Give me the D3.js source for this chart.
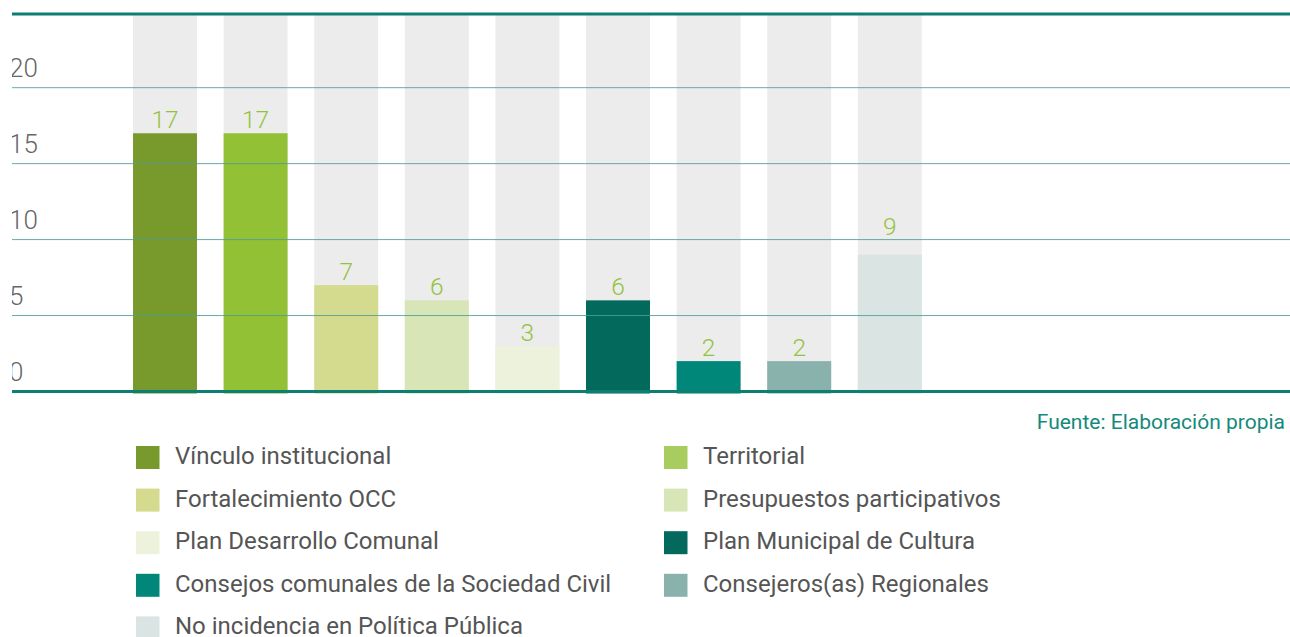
<!DOCTYPE html>
<html><head><meta charset="utf-8">
<script src="https://cdn.jsdelivr.net/npm/d3@7"></script>
<style>html,body{margin:0;padding:0;background:#fff;}svg{display:block;font-family:Roboto,sans-serif;}</style>
</head><body>
<svg id="chart" width="1290" height="637"></svg>
<script>
const categories = ["Vínculo institucional","Territorial","Fortalecimiento OCC","Presupuestos participativos","Plan Desarrollo Comunal","Plan Municipal de Cultura","Consejos comunales de la Sociedad Civil","Consejeros(as) Regionales","No incidencia en Política Pública"];
const values = [17,17,7,6,3,6,2,2,9];
const colors = ["#789a2c","#93c135","#d4da8e","#d8e6b7","#ecf2dc","#02695c","#00877a","#8ab2ad","#d9e4e3"];
const legendColors = ["#789a2c","#a9cc5f","#d4da8e","#d8e6b7","#ecf2dc","#02695c","#00877a","#8ab2ad","#d9e4e3"];
const yTicks = [0,5,10,15,20];
const yMax = 24.85;
const sourceText = "Fuente: Elaboración propia";

const svg = d3.select("#chart");
const left = 12, right = 1290;
const y = d3.scaleLinear().domain([0, yMax]).range([391.5, 14]);
const x = d3.scaleBand().domain(categories).range([119.7, 935.1]).paddingInner(0.294).paddingOuter(0.147);

// background bars
svg.append("g").selectAll("rect").data(categories).join("rect")
  .attr("x", d => x(d)).attr("width", x.bandwidth())
  .attr("y", y(yMax)).attr("height", y(0) - y(yMax) + 2)
  .attr("fill", "#ececec");

// value bars
svg.append("g").selectAll("rect").data(values).join("rect")
  .attr("x", (d,i) => x(categories[i])).attr("width", x.bandwidth())
  .attr("y", d => y(d)).attr("height", d => y(0) - y(d) + 2)
  .attr("fill", (d,i) => colors[i]);

// gridlines
svg.append("g").selectAll("line").data(yTicks.filter(t => t > 0)).join("line")
  .attr("x1", left).attr("x2", right)
  .attr("y1", d => y(d)).attr("y2", d => y(d))
  .attr("stroke", "#4f9e97").attr("stroke-width", 1).attr("opacity", 0.85);

// top and bottom thick lines
svg.append("line").attr("x1", left).attr("x2", right).attr("y1", y(yMax)).attr("y2", y(yMax))
  .attr("stroke", "#0d7f72").attr("stroke-width", 3);
svg.append("line").attr("x1", left).attr("x2", right).attr("y1", y(0)).attr("y2", y(0))
  .attr("stroke", "#0d7f72").attr("stroke-width", 3);

// y labels clipped
svg.append("clipPath").attr("id","yclip").append("rect").attr("x", left).attr("y", 0).attr("width", 100).attr("height", 420);
svg.append("g").attr("clip-path","url(#yclip)").selectAll("text").data(yTicks).join("text")
  .attr("x", 9).attr("y", d => y(d) - 11)
  .attr("font-size", 26).attr("font-weight", 300).attr("fill", "#666")
  .text(d => d);

// value labels (the last label sits a little higher in the original)
svg.append("g").selectAll("text").data(values).join("text")
  .attr("x", (d,i) => x(categories[i]) + x.bandwidth()/2)
  .attr("y", (d,i) => y(d) - 5 - (i === values.length - 1 ? 15 : 0))
  .attr("text-anchor", "middle")
  .attr("font-size", 24.5).attr("font-weight", 300).attr("fill", "#94c23c")
  .text(d => d);

// source
svg.append("text").attr("x", 1285).attr("y", 429).attr("text-anchor","end")
  .attr("font-size", 21).attr("fill", "#138a7c").text(sourceText);

// legend
const lg = svg.append("g").selectAll("g").data(categories).join("g")
  .attr("transform", (d,i) => `translate(${i % 2 === 0 ? 136 : 664},${446 + Math.floor(i/2) * 42.6})`);
lg.append("rect").attr("width", 23.5).attr("height", 23).attr("fill", (d,i) => legendColors[i]);
lg.append("text").attr("x", 39).attr("y", 18).attr("font-size", 24).attr("fill", "#555").text(d => d);
</script>
</body></html>
